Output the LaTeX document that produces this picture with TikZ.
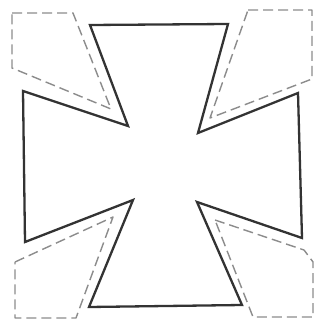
\documentclass[tikz,border=0pt]{standalone}
\begin{document}
\begin{tikzpicture}[x=1pt,y=-1pt,
  crossline/.style={draw=black!80,line width=2.3pt,line join=miter},
  ghost/.style={draw=black!45,line width=1.4pt,dash pattern=on 10pt off 5pt,line join=round}]
\useasboundingbox[fill=white] (0,0) rectangle (320,321);
% dashed quadrilaterals
\draw[ghost] (12,13) -- (73,13) -- (111,109) -- (12,68) -- cycle;
\draw[ghost] (248,10) -- (312,10) -- (312,79) -- (210,118) -- cycle;
\draw[ghost] (15,262) -- (113,217) -- (76,318) -- (15,318) -- cycle;
\draw[ghost] (215,220) -- (304,250) -- (313,262) -- (313,317) -- (253,317) -- cycle;
% cross
\coordinate (a) at (90,25);
\coordinate (b) at (228,24);
\coordinate (c) at (198,133);
\coordinate (d) at (298,93);
\coordinate (e) at (302,238);
\coordinate (f) at (197,202);
\coordinate (g) at (242,305);
\coordinate (h) at (89,307);
\coordinate (i) at (133,200);
\coordinate (j) at (25,242);
\coordinate (k) at (23,91);
\coordinate (l) at (128,126);
\draw[crossline] (a) -- (b) -- (c) -- (d) -- (e) -- (f) -- (g) -- (h) -- (i) -- (j) -- (k) -- (l) -- cycle;
\end{tikzpicture}
\end{document}
